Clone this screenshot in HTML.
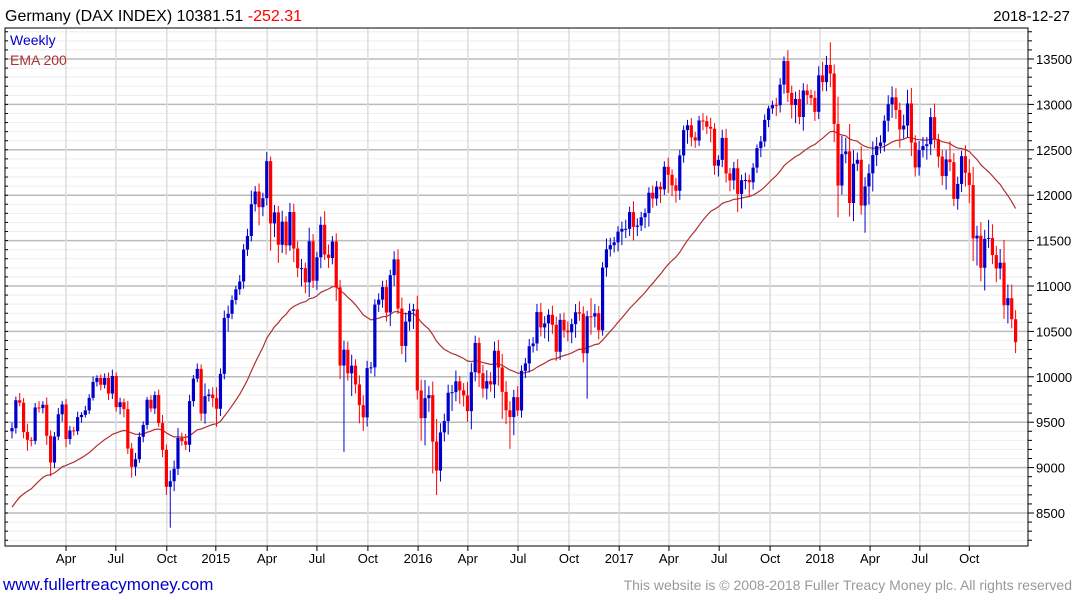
<!DOCTYPE html>
<html><head><meta charset="utf-8"><style>
body{margin:0;background:#fff;font-family:"Liberation Sans",sans-serif;}
svg{display:block}
</style></head><body>
<svg id="chart" width="1075" height="600" xmlns="http://www.w3.org/2000/svg" font-family="Liberation Sans, sans-serif">
<text x="5" y="21" font-size="16" fill="#000">Germany (DAX INDEX) 10381.51 <tspan fill="#ff0000">-252.31</tspan></text>
<text x="1070" y="21" font-size="15" fill="#000" text-anchor="end">2018-12-27</text>
<g id="grid"></g>
<g id="ema"></g>
<g id="candles"></g>
<g id="axes"></g>
<text x="10" y="45" font-size="14" fill="#0000cc">Weekly</text>
<text x="10" y="65" font-size="14" fill="#b03030">EMA 200</text>
<text x="3" y="590" font-size="17" fill="#0000cc">www.fullertreacymoney.com</text>
<text x="1072" y="590" font-size="14" fill="#999" text-anchor="end">This website is © 2008-2018 Fuller Treacy Money plc. All rights reserved</text>
</svg>
<script>
const closes=[
9435,9742,9715,9392,9306,9294,9662,9657,9692,9350,9056,9342,9587,9695,9315,9409,9401,9556,9581,9630,9768,9943,9987,9912,9987,9815,10009,9666,9720,9644,9210,9009,9092,9339,9470,9747,9651,9799,9490,9195,8788,8850,8987,9326,9291,9252,9732,9980,10087,9594,9787,9805,
9765,9648,10032,10649,10694,10846,10963,11050,11401,11551,11901,12040,11868,11967,12375,11689,11811,11454,11709,11447,11815,11413,11197,11197,11040,11492,11058,11316,11674,11347,11309,11490,10985,10124,10298,10038,10123,9916,9688,9553,10096,10104,10795,10850,10988,10708,11119,11293,10752,10340,10608,10727,
10743,9849,9545,9765,9798,9286,8967,9388,9513,9824,9831,9950,9851,9794,9622,10051,10373,10039,9870,9952,9916,10287,10103,9834,9631,9557,9776,9629,10066,10147,10337,10367,10713,10544,10588,10684,10573,10276,10627,10511,10490,10580,10711,10696,10259,10667,10664,10700,10513,11203,11404,11450,11481,
11599,11629,11630,11814,11651,11666,11757,11804,12027,11963,12095,12064,12313,12225,12109,12049,12438,12717,12770,12638,12602,12823,12816,12753,12733,12325,12389,12631,12240,12163,12297,12014,12165,12168,12142,12304,12519,12592,12829,12956,12992,12991,13218,13478,13127,12994,13060,12861,13153,13103,13072,12918,
13320,13245,13434,13340,12785,12107,12452,12483,11914,12346,12390,11886,12097,12241,12442,12540,12580,12820,13001,13078,12938,12724,12767,13011,12580,12306,12496,12541,12561,12860,12616,12425,12211,12394,12364,11960,12124,12430,12247,12112,11524,11554,11201,11519,11529,11341,11193,11257,10788,10866,10634,10381];
const wickUp=[
60,40,80,50,90,30,50,70,40,80,60,50,70,40,60,50,40,60,30,50,40,60,30,40,50,60,70,40,50,40,90,60,70,50,40,30,50,40,60,90,60,120,90,110,60,80,70,40,60,50,140,60,
80,120,60,80,90,50,40,70,60,80,150,60,90,60,100,50,80,70,120,60,100,90,80,100,60,150,80,60,90,150,110,60,90,80,100,90,120,70,100,110,80,60,60,70,70,80,60,90,110,120,100,80,
60,150,120,200,100,150,250,100,80,90,80,120,60,80,150,100,80,60,90,120,100,100,120,150,120,100,80,120,60,60,80,70,90,100,80,60,100,90,70,80,100,60,90,120,80,60,200,100,80,60,120,80,60,
60,80,100,60,120,80,60,50,60,80,60,50,60,100,60,80,60,50,60,80,60,50,80,60,100,60,50,90,100,60,70,100,60,80,60,50,40,60,60,30,50,80,70,50,120,80,80,100,80,70,60,80,
100,150,100,250,100,300,200,150,300,150,80,150,100,100,150,100,80,60,100,120,100,80,120,150,170,80,100,100,80,100,150,60,70,100,200,100,80,60,120,150,200,110,150,100,200,150,100,150,250,150,150,100];
const wickDn=[
80,60,40,70,120,60,40,50,60,100,150,60,40,80,90,60,50,40,60,30,40,30,50,60,40,70,60,50,80,90,60,120,100,40,60,50,40,60,40,80,90,450,110,70,50,60,80,60,40,80,110,60,
100,200,80,60,150,60,50,60,80,70,60,80,200,100,80,300,150,200,90,100,60,150,100,200,120,160,80,100,120,60,110,70,150,150,950,80,250,100,200,150,100,60,100,80,90,100,150,120,60,90,180,100,
200,100,250,300,150,350,270,120,100,150,200,100,150,120,120,200,100,150,100,120,80,150,200,300,150,350,200,60,80,80,100,70,80,100,120,200,100,100,90,80,100,120,150,80,100,500,200,120,100,60,100,80,80,
100,150,100,80,150,100,60,120,150,100,80,150,60,200,120,130,100,80,150,100,80,60,100,80,150,100,120,80,100,120,100,200,160,100,150,80,60,100,60,80,60,120,80,100,100,150,200,80,150,100,80,100,
80,100,100,150,200,350,100,100,150,200,80,100,300,200,200,120,80,100,120,150,100,200,100,130,150,100,90,80,150,120,100,120,100,150,100,80,120,90,150,200,250,300,150,250,100,100,150,120,150,200,100,120];
const yTicks=[8500,9000,9500,10000,10500,11000,11500,12000,12500,13000,13500];
const xTickLabels=["Apr","Jul","Oct","2015","Apr","Jul","Oct","2016","Apr","Jul","Oct","2017","Apr","Jul","Oct","2018","Apr","Jul","Oct"];
const xTickWeeks=[14.0,26.9,40.1,52.8,66.1,79.0,92.2,105.2,118.1,131.1,144.3,157.3,170.2,183.2,196.4,209.3,222.3,235.2,248.0];
const emaSeed=8520;

const NS="http://www.w3.org/2000/svg";
const L=5,R=1028,T=28,B=546;
const xS=i=>12+i*3.86;
const yS=p=>59+(13500-p)*0.0908;
function mk(tag,attrs,parent){const e=document.createElementNS(NS,tag);for(const k in attrs)e.setAttribute(k,attrs[k]);parent.appendChild(e);return e;}
const grid=document.getElementById('grid'),axes=document.getElementById('axes'),cg=document.getElementById('candles'),eg=document.getElementById('ema');
for(let p=8200;p<=13800;p+=100){const y=yS(p);if(y<T||y>B)continue;
 const major=p%500===0;
 const ln=mk('line',{x1:L,x2:R,y1:y,y2:y,stroke:major?'#bbbbbb':'#eeeeee','stroke-width':major?1.5:1},grid);
 
 
 const tk=mk('line',{x1:R,x2:R+(major?6:4),y1:y,y2:y,stroke:'#000'},axes);
 
 
 const tl=mk('line',{x1:L,x2:L+3,y1:y,y2:y,stroke:'#000'},axes);
 
 
}
xTickWeeks.forEach((w,i)=>{const x=xS(w);
 const ln=mk('line',{x1:x,x2:x,y1:T,y2:B,stroke:'#dddddd','stroke-width':1.5},grid);
 
 
 const tk=mk('line',{x1:x,x2:x,y1:B,y2:B+5,stroke:'#000'},axes);
 
 
 const t=mk('text',{x:x,y:563,'font-size':13,'text-anchor':'middle',fill:'#000'},axes);
 t.textContent=xTickLabels[i];
 
 
});
yTicks.forEach(p=>{const t=mk('text',{x:1036,y:yS(p)+5,'font-size':13,fill:'#000'},axes);
 t.textContent=p;
 
 
});
const fr=mk('rect',{x:L,y:T,width:R-L,height:B-T,fill:'none',stroke:'#000'},axes);


let e=emaSeed,pts=[];const a=2/41;
closes.forEach((c,i)=>{e=e+a*(c-e);pts.push(xS(i).toFixed(1)+','+yS(e).toFixed(1));});
const pl=mk('polyline',{points:pts.join(' '),fill:'none',stroke:'#b03030','stroke-width':1.2},eg);


closes.forEach((c,i)=>{
 const o=i>0?closes[i-1]:9400;
 const hi=Math.max(o,c)+(wickUp[i]||80), lo=Math.min(o,c)-(wickDn[i]||80);
 const col=c>=o?'#0000cc':'#ff0000';const x=xS(i);
 const g=mk('g',{},cg);
 
 
 mk('line',{x1:x,x2:x,y1:yS(hi),y2:yS(lo),stroke:col,'stroke-width':1},g);
 const y1=yS(Math.max(o,c)),y2=yS(Math.min(o,c));
 mk('rect',{x:x-1.6,y:y1,width:3.2,height:Math.max(1,y2-y1),fill:col},g);
});
</script>
</body></html>
